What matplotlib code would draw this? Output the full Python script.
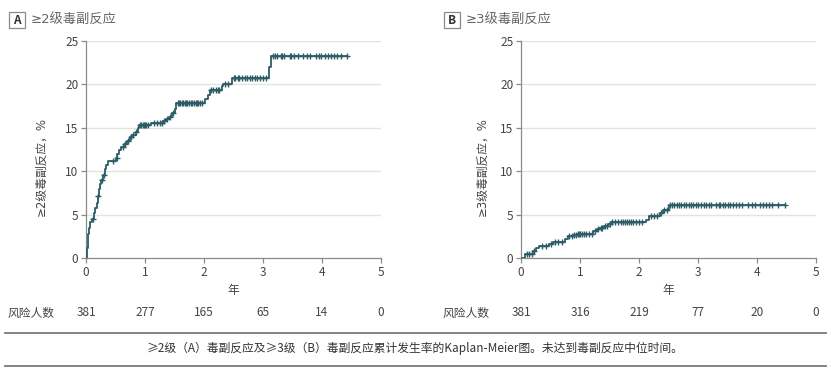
import numpy as np
import matplotlib
matplotlib.use("Agg")
import matplotlib.pyplot as plt
from matplotlib.patches import Rectangle
from matplotlib.lines import Line2D

plt.rcParams['font.family'] = ['Noto Sans CJK SC', 'DejaVu Sans']
FAM_GE = ['DejaVu Sans', 'Noto Sans CJK SC']

# ---- Data ----
# Panel A: >=2 grade, step times (years) and cumulative incidence (%)
a_times = [0.0, 0.01, 0.02, 0.03, 0.04, 0.05, 0.06, 0.10, 0.14, 0.16, 0.19, 0.20, 0.22, 0.24,
           0.26, 0.29, 0.32, 0.34, 0.37, 0.50, 0.53, 0.56, 0.60, 0.65, 0.70, 0.74, 0.78, 0.84,
           0.88, 0.90, 1.10, 1.30, 1.35, 1.40, 1.45, 1.50, 1.53, 2.02, 2.06, 2.10, 2.30, 2.33,
           2.47, 3.10, 3.14, 4.42]
a_vals = [0.0, 0.5, 1.2, 2.0, 2.8, 3.5, 4.2, 4.5, 5.2, 5.8, 6.3, 7.2, 7.9, 8.5,
          9.0, 9.6, 10.2, 10.7, 11.2, 11.5, 12.0, 12.5, 12.8, 13.1, 13.5, 13.9, 14.2, 14.5,
          15.0, 15.3, 15.6, 15.8, 16.0, 16.3, 16.7, 17.2, 17.8, 18.3, 18.8, 19.35, 19.8, 20.1,
          20.7, 22.0, 23.3, 23.3]
a_censor = [0.12, 0.20, 0.27, 0.31, 0.45, 0.52, 0.62, 0.66, 0.72, 0.77, 0.80, 0.85, 0.92, 0.94,
            0.96, 0.98, 1.00, 1.02, 1.05, 1.15, 1.20, 1.25, 1.28, 1.32, 1.38, 1.42, 1.47, 1.56,
            1.58, 1.60, 1.62, 1.65, 1.68, 1.70, 1.72, 1.75, 1.78, 1.80, 1.83, 1.86, 1.88, 1.90,
            1.93, 1.97, 2.12, 2.15, 2.20, 2.23, 2.26, 2.35, 2.40, 2.50, 2.53, 2.57, 2.60, 2.65,
            2.70, 2.73, 2.78, 2.82, 2.86, 2.90, 2.95, 3.00, 3.05, 3.17, 3.20, 3.23, 3.30, 3.33,
            3.36, 3.45, 3.48, 3.52, 3.60, 3.67, 3.75, 3.80, 3.90, 3.95, 3.99, 4.05, 4.10, 4.15,
            4.20, 4.25, 4.32, 4.42]

# Panel B: >=3 grade
b_times = [0.0, 0.07, 0.20, 0.25, 0.30, 0.47, 0.55, 0.75, 0.80, 0.88, 0.95, 1.22, 1.28, 1.33,
           1.40, 1.47, 1.53, 2.12, 2.17, 2.35, 2.40, 2.50, 4.48]
b_vals = [0.0, 0.45, 0.8, 1.1, 1.4, 1.6, 1.9, 2.2, 2.5, 2.7, 2.8, 3.1, 3.3, 3.5,
          3.7, 3.9, 4.15, 4.4, 4.8, 5.2, 5.5, 6.1, 6.1]
b_censor = [0.10, 0.14, 0.18, 0.22, 0.35, 0.42, 0.50, 0.58, 0.62, 0.70, 0.82, 0.86, 0.90, 0.93,
            0.96, 0.98, 1.00, 1.03, 1.06, 1.10, 1.15, 1.20, 1.25, 1.30, 1.35, 1.38, 1.42, 1.45,
            1.50, 1.55, 1.60, 1.65, 1.70, 1.73, 1.77, 1.80, 1.83, 1.87, 1.90, 1.95, 2.00, 2.05,
            2.20, 2.25, 2.30, 2.37, 2.43, 2.47, 2.53, 2.56, 2.60, 2.65, 2.68, 2.72, 2.76, 2.80,
            2.85, 2.88, 2.92, 2.96, 3.00, 3.05, 3.10, 3.13, 3.18, 3.22, 3.30, 3.35, 3.38, 3.42,
            3.45, 3.50, 3.55, 3.60, 3.65, 3.70, 3.75, 3.85, 3.92, 3.97, 4.05, 4.10, 4.15, 4.20,
            4.25, 4.35, 4.47]

x_ticks = [0, 1, 2, 3, 4, 5]
y_ticks = [0, 5, 10, 15, 20, 25]
a_risk = [381, 277, 165, 65, 14, 0]
b_risk = [381, 316, 219, 77, 20, 0]

a_title = "≥2级毒副反应"
b_title = "≥3级毒副反应"
a_ylabel = "≥2级毒副反应，%"
b_ylabel = "≥3级毒副反应，%"
xlabel = "年"
risk_label = "风险人数"
caption = "≥2级（A）毒副反应及≥3级（B）毒副反应累计发生率的Kaplan-Meier图。未达到毒副反应中位时间。"

LINE = "#2e5c66"
GRID = "#e3e3e3"
SPINE = "#8a8a8a"
TXT = "#444444"

W, H = 831, 369
fig = plt.figure(figsize=(W / 100, H / 100), dpi=100)


def px(x0, y0, w, h):
    return [x0 / W, 1 - (y0 + h) / H, w / W, h / H]


def panel(rect, times, vals, censor, ylabel, ylab_x):
    ax = fig.add_axes(rect)
    times = np.array(times)
    vals = np.array(vals)
    ax.step(times, vals, where='post', color=LINE, lw=1.3, zorder=3)
    c = np.array(censor)
    idx = np.searchsorted(times, c, side='right') - 1
    ax.plot(c, vals[idx], ls='none', marker='+', ms=5, mew=1.0, color=LINE, zorder=4)
    ax.set_xlim(0, 5)
    ax.set_ylim(0, 25)
    ax.set_xticks(x_ticks)
    ax.set_yticks(y_ticks)
    for y in y_ticks[1:]:
        ax.axhline(y, color=GRID, lw=1.0, zorder=1)
    for s in ['top', 'right']:
        ax.spines[s].set_visible(False)
    for s in ['left', 'bottom']:
        ax.spines[s].set_color(SPINE)
        ax.spines[s].set_linewidth(0.9)
    ax.tick_params(axis='both', colors=SPINE, labelcolor=TXT, labelsize=8.5,
                   length=3.5, width=0.9, pad=2)
    ax.set_ylabel(ylabel, fontsize=8.5, color=TXT, family=FAM_GE)
    ax.yaxis.set_label_coords(ylab_x, 0.42)
    ax.set_xlabel(xlabel, fontsize=8.5, color=TXT, labelpad=4)
    return ax


axA = panel(px(86, 41, 295, 217), a_times, a_vals, a_censor, a_ylabel, -0.13)
axB = panel(px(521, 41, 295, 217), b_times, b_vals, b_censor, b_ylabel, -0.11)

# Panel labels
for (bx, label, tx, title) in [(9, "A", 31, a_title), (444, "B", 466, b_title)]:
    fig.patches.append(Rectangle((bx / W, 1 - 28 / H), 16 / W, 16 / H,
                                 transform=fig.transFigure, fill=False,
                                 edgecolor="#8a8a8a", lw=0.9))
    fig.text((bx + 8) / W, 1 - 20 / H, label, ha='center', va='center',
             fontsize=8.5, fontweight='bold', color="#333333")
    fig.text(tx / W, 1 - 20 / H, title, ha='left', va='center', fontsize=9.5,
             color="#666666", family=FAM_GE)

# Risk tables
for ax, risks, lx in [(axA, a_risk, 31), (axB, b_risk, 466)]:
    fig.text(lx / W, 1 - 313 / H, risk_label, ha='center', va='center', fontsize=8.5, color=TXT)
    for xt, r in zip(x_ticks, risks):
        xd = ax.transData.transform((xt, 0))[0]
        fig.text(xd / W, 1 - 313 / H, str(r), ha='center', va='center',
                 fontsize=8.5, color=TXT)

# Caption with rules
fig.lines.append(Line2D([5 / W, 826 / W], [1 - 333 / H, 1 - 333 / H],
                        transform=fig.transFigure, color="#7a7a7a", lw=1.3))
fig.lines.append(Line2D([5 / W, 826 / W], [1 - 366 / H, 1 - 366 / H],
                        transform=fig.transFigure, color="#7a7a7a", lw=1.3))
fig.text(415 / W, 1 - 348 / H, caption, ha='center', va='center', fontsize=8.5, color="#333333")

fig.savefig("out.png", dpi=100)
